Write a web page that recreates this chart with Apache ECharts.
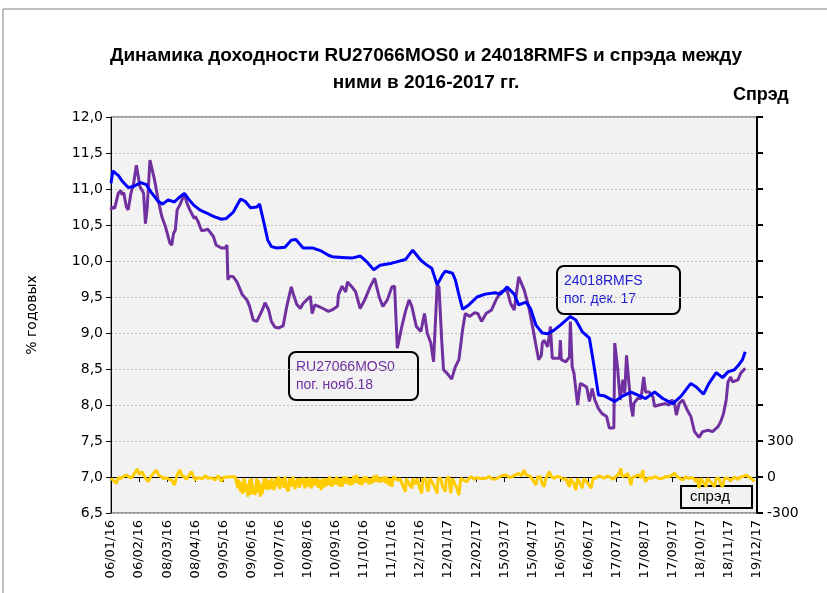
<!DOCTYPE html>
<html>
<head>
<meta charset="utf-8">
<script src="https://cdn.jsdelivr.net/npm/echarts@6/dist/echarts.min.js"></script>
<style>
html, body { margin: 0; padding: 0; background: #fff; }
#chart { width: 827px; height: 593px; }
</style>
</head>
<body>
<div id="chart"></div>
<script>
// x values are days counted from 06/01/2016, axis step is 31 days
var tickLabels = ['06/01/16', '06/02/16', '08/03/16', '08/04/16', '09/05/16', '09/06/16',
    '10/07/16', '10/08/16', '10/09/16', '11/10/16', '11/11/16', '12/12/16',
    '12/01/17', '12/02/17', '15/03/17', '15/04/17', '16/05/17', '16/06/17',
    '17/07/17', '17/08/17', '17/09/17', '18/10/17', '18/11/17', '19/12/17'];

// 24018RMFS, % годовых
var rmfs = [[0,11.08],[2,11.25],[8,11.19],[13,11.10],[19,11.02],[24,11.03],[33,11.09],[39,11.06],[44,10.96],[52,10.83],
    [57,10.79],[63,10.85],[70,10.82],[76,10.89],[81,10.94],[85,10.87],[91,10.78],[98,10.71],[105,10.67],[113,10.62],
    [122,10.58],[127,10.59],[135,10.68],[143,10.86],[148,10.83],[154,10.74],[161,10.75],[164,10.79],[169,10.52],[173,10.29],
    [177,10.20],[183,10.18],[192,10.19],[199,10.29],[204,10.30],[212,10.18],[223,10.18],[232,10.14],[240,10.08],[244,10.06],
    [255,10.05],[266,10.04],[275,10.07],[283,9.98],[290,9.88],[297,9.94],[310,9.97],[325,10.02],[333,10.15],[342,10.01],
    [349,9.94],[354,9.90],[360,9.67],[366,9.81],[369,9.86],[377,9.83],[380,9.74],[384,9.53],[388,9.33],[395,9.39],
    [404,9.50],[413,9.54],[424,9.56],[430,9.54],[437,9.64],[445,9.54],[450,9.39],[458,9.43],[463,9.34],[469,9.11],
    [476,9.00],[482,8.99],[489,9.04],[496,9.11],[507,9.23],[513,9.18],[520,9.02],[528,8.93],[532,8.63],[538,8.14],
    [544,8.13],[556,8.05],[564,8.12],[574,8.18],[581,8.14],[590,8.09],[600,8.18],[609,8.09],[620,8.02],[629,8.12],
    [640,8.30],[646,8.25],[654,8.15],[660,8.30],[668,8.45],[675,8.38],[681,8.46],[688,8.49],[693,8.56],[697,8.63],[700,8.74]];

// RU27066MOS0, % годовых
var mos = [[0,10.71],[1,10.75],[4,10.73],[8,10.94],[11,10.98],[12,10.92],[14,10.95],[17,10.75],[19,10.71],[22,10.94],
    [25,11.08],[28,11.33],[30,11.35],[32,11.03],[34,10.99],[36,10.94],[38,10.52],[40,10.75],[43,11.40],[45,11.40],
    [48,11.13],[52,10.85],[56,10.62],[60,10.48],[65,10.25],[67,10.22],[69,10.38],[71,10.43],[73,10.71],[76,10.78],
    [79,10.87],[81,10.92],[84,10.80],[87,10.71],[89,10.66],[92,10.59],[93,10.62],[96,10.55],[100,10.42],[104,10.43],
    [107,10.44],[109,10.43],[113,10.34],[116,10.22],[122,10.18],[126,10.18],[128,10.22],[129,9.74],[131,9.79],[135,9.78],
    [139,9.71],[142,9.62],[145,9.53],[147,9.55],[150,9.46],[153,9.37],[157,9.18],[161,9.16],[163,9.14],[167,9.32],
    [170,9.42],[174,9.32],[177,9.16],[181,9.08],[185,9.07],[190,9.10],[194,9.37],[199,9.64],[201,9.55],[205,9.40],
    [209,9.34],[212,9.41],[216,9.46],[220,9.51],[222,9.27],[225,9.39],[229,9.37],[234,9.34],[240,9.30],[244,9.32],
    [250,9.37],[251,9.53],[255,9.65],[259,9.57],[261,9.71],[266,9.64],[270,9.57],[275,9.34],[280,9.46],[286,9.64],
    [291,9.76],[296,9.50],[300,9.37],[305,9.46],[310,9.64],[313,9.65],[316,8.79],[321,9.09],[325,9.30],[329,9.46],
    [332,9.37],[337,9.09],[342,9.02],[346,9.27],[349,9.00],[353,8.86],[356,8.60],[360,9.67],[362,9.64],[365,8.90],
    [367,8.49],[371,8.44],[376,8.36],[380,8.53],[384,8.63],[388,9.04],[391,9.27],[396,9.23],[401,9.28],[405,9.27],
    [409,9.16],[414,9.27],[420,9.32],[425,9.46],[430,9.57],[437,9.60],[441,9.41],[445,9.32],[450,9.78],[456,9.60],
    [461,9.37],[466,9.04],[469,8.83],[472,8.63],[475,8.69],[476,8.86],[478,8.90],[482,8.81],[485,9.09],[487,8.65],
    [495,8.65],[496,8.90],[497,8.63],[502,8.60],[506,8.67],[507,9.16],[509,8.53],[511,8.44],[515,8.00],[518,8.30],
    [521,8.28],[525,8.25],[528,8.05],[531,8.23],[534,8.07],[538,7.95],[542,7.88],[547,7.84],[550,7.68],[555,7.68],
    [556,8.86],[559,8.53],[562,8.07],[565,8.35],[567,8.16],[569,8.69],[572,8.25],[574,7.98],[576,7.84],[577,8.02],
    [581,8.09],[585,8.09],[588,8.39],[590,8.18],[594,8.18],[598,8.12],[600,7.98],[605,8.00],[612,8.02],[616,8.00],
    [619,8.07],[622,8.02],[624,7.86],[627,8.02],[631,8.07],[636,7.93],[640,7.84],[644,7.63],[649,7.55],[653,7.63],
    [659,7.65],[664,7.63],[670,7.70],[673,7.77],[676,7.88],[679,8.07],[681,8.32],[684,8.39],[686,8.32],[692,8.35],
    [695,8.44],[700,8.51]];

// спрэд, б.п.
var spread = [[0,-11],[3,-30],[6,-53],[8,-5],[11,-11],[14,5],[17,17],[20,0],[23,-6],[26,31],
    [29,67],[31,20],[34,44],[37,3],[39,-20],[41,-39],[44,5],[46,17],[50,58],[53,10],
    [56,3],[58,-15],[61,-6],[64,-20],[67,-25],[70,-67],[73,17],[76,58],[78,10],[81,3],
    [83,-20],[85,-11],[89,44],[91,5],[93,-25],[96,-5],[98,3],[101,-15],[104,11],[107,-11],
    [111,-5],[115,-25],[118,11],[120,-10],[122,-39],[124,-5],[126,3],[131,3],[137,3],[139,-60],
    [140,-94],[141,-20],[143,-122],[144,-40],[145,-140],[147,-11],[149,-130],[150,-60],[151,-164],[153,-20],
    [154,-150],[155,-11],[157,-140],[158,-80],[159,-150],[161,-11],[162,-130],[163,-30],[165,-164],[166,-60],
    [167,-140],[169,-11],[170,-100],[171,-11],[173,-108],[174,-30],[176,-100],[177,-11],[179,-90],[180,-108],
    [182,-11],[183,-80],[185,3],[186,-100],[188,-108],[189,-11],[191,-90],[192,3],[194,-100],[196,-117],
    [197,-11],[199,-80],[201,3],[203,-100],[205,-108],[206,-11],[208,-90],[209,-11],[211,-60],[212,-6],
    [214,-94],[216,-11],[218,-80],[219,-6],[221,-94],[223,-11],[225,-70],[227,-11],[229,-90],[230,-20],
    [232,-108],[234,-11],[236,-85],[238,-11],[240,-70],[241,3],[244,-81],[246,-11],[248,-60],[249,3],
    [252,-75],[253,-11],[255,-81],[257,3],[259,-55],[260,3],[263,-67],[264,-11],[266,-67],[268,10],
    [270,-50],[271,17],[274,-60],[275,-11],[277,-67],[279,3],[281,-45],[282,3],[285,-60],[286,-11],
    [288,-53],[290,10],[292,-40],[293,17],[296,-45],[297,-6],[299,-39],[301,3],[303,-50],[304,3],
    [307,-70],[308,-11],[310,-81],[312,3],[314,3],[317,-30],[319,-11],[321,-11],[323,-90],[325,-122],
    [326,-11],[328,3],[330,-70],[332,-94],[333,-11],[336,-60],[338,-11],[341,-100],[343,-136],[344,-20],
    [347,-11],[349,-90],[350,-122],[352,-11],[354,3],[357,-80],[360,-136],[361,-11],[364,-11],[366,-80],
    [369,-122],[370,-20],[373,3],[374,-90],[375,-136],[377,-11],[379,3],[382,-100],[384,-150],[386,-11],
    [388,3],[390,-30],[393,-39],[395,-11],[398,3],[400,-20],[402,-25],[404,-6],[406,3],[410,-15],
    [414,-11],[417,5],[419,3],[422,-20],[426,-11],[431,10],[436,17],[440,-5],[443,3],[447,20],
    [450,31],[453,10],[456,58],[458,20],[460,31],[463,3],[465,3],[467,-40],[469,-67],[471,3],
    [474,3],[476,-60],[478,-81],[480,-11],[484,44],[486,3],[489,-11],[492,5],[495,3],[499,-20],
    [502,-11],[504,-50],[506,-81],[507,-11],[509,3],[511,-60],[513,-108],[515,-11],[517,-11],[519,-70],
    [520,-94],[522,-11],[524,3],[527,-60],[530,-94],[532,-11],[535,-11],[538,10],[541,3],[544,-11],
    [547,8],[550,3],[554,-20],[557,3],[560,20],[563,72],[564,5],[566,-11],[568,10],[570,31],
    [572,-11],[574,-67],[575,-5],[577,3],[580,10],[583,17],[585,-10],[587,58],[588,0],[590,-39],
    [593,-5],[596,-11],[598,5],[601,3],[605,-15],[609,-11],[612,5],[616,3],[619,15],[622,31],
    [625,3],[628,-10],[631,-25],[634,0],[638,-11],[642,-5],[646,-39],[647,-10],[649,-94],[651,-11],
    [653,-11],[655,-60],[657,-81],[658,-11],[660,-11],[663,-50],[666,-81],[668,-11],[671,-11],[673,-60],
    [675,-81],[677,-11],[681,-11],[684,-30],[686,-25],[688,0],[690,3],[692,-20],[695,3],[698,5],
    [701,17],[704,0],[706,-11],[708,-20],[710,-39]];

var chart = echarts.init(document.getElementById('chart'));

var option = {
    backgroundColor: '#fff',
    animation: false,
    title: {
        text: 'Динамика доходности RU27066MOS0 и 24018RMFS и спрэда между\nними в 2016-2017 гг.',
        left: 421,
        top: 37,
        textAlign: 'center',
        textStyle: {
            fontFamily: 'Liberation Sans',
            fontSize: 19,
            fontWeight: 'bold',
            lineHeight: 27,
            color: '#000'
        }
    },
    grid: {
        left: 111,
        right: 70,
        top: 117,
        bottom: 80,
        show: true,
        backgroundColor: '#F2F2F2',
        borderColor: '#404040',
        borderWidth: 1
    },
    xAxis: {
        type: 'value',
        min: 0,
        max: 713,
        interval: 31,
        axisLine: { lineStyle: { color: '#000', width: 1 } },
        axisTick: { show: true, length: 5, lineStyle: { color: '#000' } },
        splitLine: { show: false },
        axisLabel: {
            rotate: 90,
            margin: 7,
            fontFamily: 'DejaVu Sans',
            fontSize: 13,
            color: '#000',
            formatter: function (v) {
                return tickLabels[Math.round(v / 31)];
            }
        }
    },
    yAxis: [
        {
            type: 'value',
            min: 6.5,
            max: 12,
            interval: 0.5,
            name: '% годовых',
            nameLocation: 'middle',
            nameRotate: 90,
            nameGap: 72,
            nameTextStyle: { fontFamily: 'DejaVu Sans', fontSize: 14, color: '#000' },
            axisLine: { show: true, lineStyle: { color: '#000' } },
            axisTick: { show: true, length: 5, lineStyle: { color: '#000' } },
            axisLabel: {
                margin: 8,
                fontFamily: 'DejaVu Sans',
                fontSize: 14,
                color: '#000',
                formatter: function (v) { return v.toFixed(1).replace('.', ','); }
            },
            splitLine: { show: true, lineStyle: { color: '#BFBFBF', type: [2, 2], width: 1 } }
        },
        {
            type: 'value',
            min: -300,
            max: 3000,
            interval: 300,
            position: 'right',
            axisLine: { show: true, lineStyle: { color: '#000', width: 2 } },
            axisTick: { show: true, length: 6, lineStyle: { color: '#000', width: 2 } },
            axisLabel: {
                margin: 10,
                fontFamily: 'DejaVu Sans',
                fontSize: 14,
                color: '#000',
                formatter: function (v) { return v <= 300 ? String(v) : ''; }
            },
            splitLine: { show: false }
        }
    ],
    series: [
        {
            name: 'спрэд',
            type: 'line',
            yAxisIndex: 1,
            data: spread,
            showSymbol: false,
            lineStyle: { color: '#FFCC00', width: 3 }
        },
        {
            name: 'RU27066MOS0',
            type: 'line',
            data: mos,
            showSymbol: false,
            lineStyle: { color: '#7030A0', width: 3 }
        },
        {
            name: '24018RMFS',
            type: 'line',
            data: rmfs,
            showSymbol: false,
            lineStyle: { color: '#0000FF', width: 3 }
        }
    ],
    graphic: [
        // chart area frame
        { type: 'rect', shape: { x: 3, y: 9, width: 900, height: 700 }, style: { fill: 'none', stroke: '#7F7F7F', lineWidth: 1 }, silent: true },
        { type: 'text', left: 733, top: 86, style: { text: 'Спрэд', font: 'bold 18px "Liberation Sans"', fill: '#000' } },
        // callouts
        { type: 'rect', shape: { x: 289, y: 352, width: 129, height: 48, r: 7 }, style: { fill: '#F2F2F2', stroke: '#000', lineWidth: 2 } },
        { type: 'text', left: 296, top: 358, style: { text: 'RU27066MOS0\nпог. нояб.18', font: '14px "Liberation Sans"', lineHeight: 18, fill: '#7030A0' } },
        { type: 'rect', shape: { x: 557, y: 266, width: 123, height: 48, r: 7 }, style: { fill: '#F2F2F2', stroke: '#000', lineWidth: 2 } },
        { type: 'text', left: 564, top: 272, style: { text: '24018RMFS\nпог. дек. 17', font: '14px "Liberation Sans"', lineHeight: 18, fill: '#2020D0' } },
        { type: 'rect', shape: { x: 681, y: 486, width: 71, height: 22 }, style: { fill: '#F2F2F2', stroke: '#000', lineWidth: 2 } },
        { type: 'text', left: 690, top: 489, style: { text: 'спрэд', font: '15px "Liberation Sans"', fill: '#000' } }
    ]
};

chart.setOption(option);
</script>
</body>
</html>
